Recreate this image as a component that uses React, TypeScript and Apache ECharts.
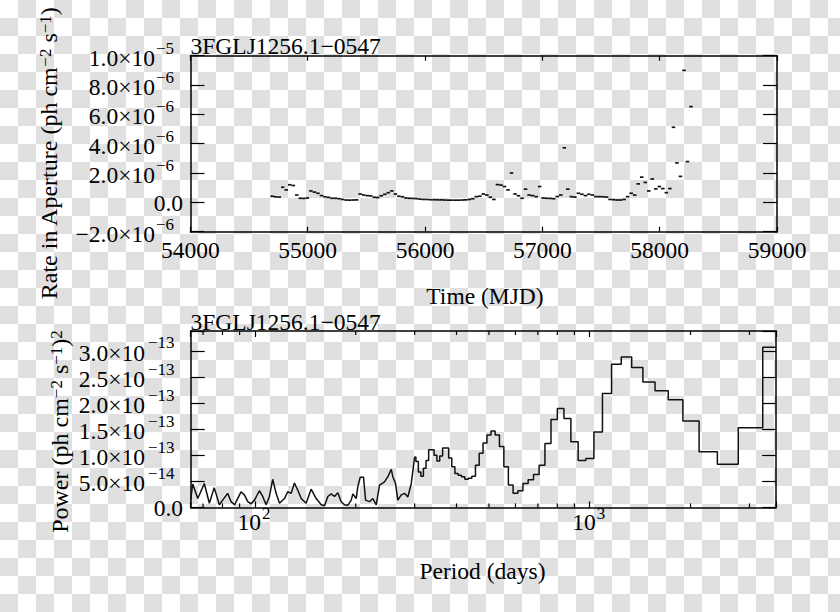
import React, { useEffect, useRef } from 'react';
import * as echarts from 'echarts';

const SOURCE = '3FGLJ1256.1−0547';
const FONT = 'Liberation Serif';

// ---- Light curve (top panel): 30-day bin centres (MJD) and rate in aperture (×1e-6 ph cm^-2 s^-1)
const binMjd = [
  54697, 54727, 54757, 54787, 54817, 54847, 54877, 54907, 54937, 54967,
  54997, 55027, 55057, 55087, 55117, 55147, 55177, 55207, 55237, 55267,
  55297, 55327, 55357, 55387, 55417, 55447, 55477, 55507, 55537, 55567,
  55597, 55627, 55657, 55687, 55717, 55747, 55777, 55807, 55837, 55867,
  55897, 55927, 55957, 55987, 56017, 56047, 56077, 56107, 56137, 56167,
  56197, 56227, 56257, 56287, 56317, 56347, 56377, 56407, 56437, 56467,
  56497, 56527, 56557, 56587, 56617, 56647, 56677, 56707, 56737, 56767,
  56797, 56827, 56857, 56887, 56917, 56947, 56977, 57007, 57037, 57067,
  57097, 57127, 57157, 57187, 57217, 57247, 57277, 57307, 57337, 57367,
  57397, 57427, 57457, 57487, 57517, 57547, 57577, 57607, 57637, 57667,
  57697, 57727, 57757, 57787, 57817, 57847, 57877, 57907, 57937, 57967,
  57997, 58027, 58057, 58087, 58117, 58147, 58177, 58207, 58237, 58267,
];
const rateE6 = [
  0.42, 0.38, 0.36, 1.03, 0.85, 1.2, 1.15, 0.5, 0.28, 0.27,
  0.3, 0.78, 0.7, 0.62, 0.46, 0.38, 0.34, 0.28, 0.28, 0.25,
  0.2, 0.16, 0.15, 0.16, 0.17, 0.57, 0.5, 0.46, 0.44, 0.35,
  0.33, 0.45, 0.55, 0.66, 0.78, 0.57, 0.42, 0.38, 0.3, 0.28,
  0.27, 0.25, 0.22, 0.2, 0.2, 0.18, 0.18, 0.17, 0.17, 0.16,
  0.15, 0.15, 0.15, 0.15, 0.16, 0.17, 0.2, 0.25, 0.39, 0.42,
  0.57, 0.5, 0.35, 0.2, 1.21, 1.18, 1.08, 0.85, 2.0, 0.57,
  0.45, 0.28, 0.9, 0.5, 0.46, 0.39, 1.08, 0.3, 0.28, 0.27,
  0.25, 0.4, 0.5, 3.72, 0.9, 0.39, 0.36, 0.62, 0.55, 0.46,
  0.55, 0.5, 0.39, 0.39, 0.38, 0.36, 0.2, 0.18, 0.16, 0.16,
  0.2, 0.39, 0.62, 0.5, 1.26, 1.72, 1.36, 0.78, 1.59, 0.92,
  1.08, 0.94, 0.66, 0.94, 5.12, 2.69, 1.77, 9.0, 2.78, 6.53,
];
const HALF_BIN_DAYS = 15;

// ---- Periodogram (bottom panel): period (days) and power (×1e-13 (ph cm^-2 s^-1)^2)
const periodShort = [
  64.3, 65.2, 67.5, 70.6, 73.1, 75.6, 78.3, 80.1, 82.9, 84.9,
  86.9, 90.9, 93.0, 95.2, 97.4, 99.7, 103.1, 105.5, 108.0, 110.5,
  113.0, 115.7, 118.4, 122.5, 125.3, 128.3, 131.2, 134.3, 137.5, 142.2,
  147.2, 152.4, 157.8, 161.4, 165.1, 169.0, 172.9, 176.8, 181.0, 185.2,
  189.4, 193.9, 196.1, 200.7, 202.9, 206.3, 211.1, 214.0, 219.9, 225.0,
  230.3, 235.6, 243.8, 249.5, 255.4, 258.2, 263.0, 267.2, 273.6, 279.8,
  286.2, 293.1, 300,
];
const powerShort = [
  0.15, 0.45, 0.17, 0.46, 0.08, 0.38, 0.05, 0.14, 0.27, 0.11,
  0.05, 0.3, 0.24, 0.11, 0.07, 0.14, 0.32, 0.21, 0.05, 0.21,
  0.54, 0.27, 0.08, 0.17, 0.3, 0.27, 0.47, 0.33, 0.17, 0.08,
  0.35, 0.17, 0.05, 0.03, 0.21, 0.26, 0.21, 0.28, 0.11, 0.05,
  0.04, 0.14, 0.26, 0.17, 0.4, 0.58, 0.58, 0.14, 0.11, 0.17,
  0.05, 0.43, 0.49, 0.59, 0.73, 0.59, 0.46, 0.14, 0.24, 0.27,
  0.2, 0.46, 0.97,
];
const periodLong = [
  300, 305.1, 310.3, 315.8, 321.4, 327.3, 333.3, 339.6, 346.2, 352.9,
  360, 367.3, 375, 383, 391.3, 400, 409.1, 418.6, 428.6, 439,
  450, 461.5, 473.7, 486.5, 500, 514.3, 529.4, 545.5, 562.5, 580.6,
  600, 620.7, 642.9, 666.7, 692.3, 720, 750, 782.6, 818.2, 857.1,
  900, 947.4, 1000, 1058.8, 1125, 1200, 1285.7, 1384.6, 1500, 1636.4,
  1800, 2000, 2250, 2571.4, 3000, 3600,
];
const powerLong = [
  0.97, 0.88, 0.68, 0.6, 0.75, 0.9, 1.11, 1.11, 1.0, 0.89,
  0.99, 1.14, 1.14, 0.95, 0.78, 0.65, 0.62, 0.59, 0.54, 0.56,
  0.6, 0.81, 1.04, 1.24, 1.39, 1.47, 1.39, 1.17, 0.78, 0.43,
  0.27, 0.32, 0.46, 0.53, 0.63, 0.81, 1.23, 1.69, 1.9, 1.71,
  1.26, 0.9, 0.94, 1.45, 2.19, 2.75, 2.89, 2.69, 2.41, 2.24,
  2.07, 1.66, 1.07, 0.83, 1.53, 3.08,
];

// ---- Tick values and labels
const timeTicks = [54000, 55000, 56000, 57000, 58000, 59000];
const timeTickLabels = ['54000', '55000', '56000', '57000', '58000', '59000'];
const rateTicks = [-2, 0, 2, 4, 6, 8, 10];
const rateTickLabels: [string, string][] = [
  ['−2.0', '−6'], ['0.0', ''], ['2.0', '−6'], ['4.0', '−6'], ['6.0', '−6'], ['8.0', '−6'], ['1.0', '−5'],
];
const powerTicks = [0, 0.5, 1, 1.5, 2, 2.5, 3];
const powerTickLabels: [string, string][] = [
  ['0.0', ''], ['5.0', '−14'], ['1.0', '−13'], ['1.5', '−13'], ['2.0', '−13'], ['2.5', '−13'], ['3.0', '−13'],
];
const periodMajorTicks = [100, 1000];
const periodMajorExp = ['2', '3'];
const periodMinorTicks = [70, 80, 90, 200, 300, 400, 500, 600, 700, 800, 900, 2000, 3000];

const BLACK = '#000';
const BASE_SIZE = 23.5;
const SUP_SIZE = 17;
const CHECK_GREY = '#e0e0e0';
const CHECK_CELL = 18;

const titleRich = {
  b: { fontFamily: FONT, fontSize: 24, lineHeight: 24, fill: BLACK, verticalAlign: 'bottom' },
  s: { fontFamily: FONT, fontSize: 17, lineHeight: 14, fill: BLACK, verticalAlign: 'top', padding: [0, 0, 17, 0] },
};

const axisLine = { show: true, onZero: false, lineStyle: { color: BLACK, width: 1.5 } };
const tickStyle = { color: BLACK, width: 1.2 };

function txt(x: number, y: number, text: string, size: number, align: string) {
  return {
    type: 'text', x, y, silent: true,
    style: { text, fontFamily: FONT, fontSize: size, fill: BLACK, align, verticalAlign: 'middle' },
  };
}

// y-axis tick label: mantissa "×10" right-aligned, exponent as superscript after it
function sciTickRenderer(labels: [string, string][], baseRight: number, supLeft: number, plainRight: number,
  baseDy: number, supDy: number, plainDy: number) {
  return (params: any, api: any) => {
    const p = api.coord([api.value(0), api.value(1)]);
    const [m, e] = labels[params.dataIndex];
    if (!e) return txt(p[0] - plainRight, p[1] + plainDy, m, BASE_SIZE, 'right');
    return {
      type: 'group',
      children: [
        txt(p[0] - baseRight, p[1] + baseDy, `${m}×10`, BASE_SIZE, 'right'),
        txt(p[0] - supLeft, p[1] + supDy, e, SUP_SIZE, 'left'),
      ],
    };
  };
}

function checkerboard(w: number, h: number) {
  const els: any[] = [];
  for (let r = 0; r * CHECK_CELL < h; r++) {
    for (let c = 0; c * CHECK_CELL < w; c++) {
      if ((r + c) % 2 === 1) {
        els.push({
          type: 'rect', silent: true,
          shape: { x: c * CHECK_CELL, y: r * CHECK_CELL, width: CHECK_CELL, height: CHECK_CELL },
          style: { fill: CHECK_GREY },
        });
      }
    }
  }
  return els;
}

function buildOption(): any {
  const lightData = binMjd.map((t, i) => [t, rateE6[i]]);
  const shortData = periodShort.map((p, i) => [p, powerShort[i]]);
  const longData = periodLong.map((p, i) => [p, powerLong[i]]);
  const minorData = periodMinorTicks.map((p) => [p, 0]);
  const POWER_MAX = 3.39;

  return {
    animation: false,
    backgroundColor: '#ffffff',
    grid: [
      { left: 190.4, top: 55.7, width: 586.6, height: 176, containLabel: false },
      { left: 190.7, top: 331, width: 585.3, height: 176.4, containLabel: false },
    ],
    xAxis: [
      {
        gridIndex: 0, type: 'value', min: 54000, max: 59000, interval: 1000, position: 'bottom',
        axisLine, axisTick: { inside: true, length: 5, lineStyle: tickStyle },
        axisLabel: {
          margin: 6.5, color: BLACK, fontFamily: FONT, fontSize: BASE_SIZE,
          showMinLabel: true, showMaxLabel: true,
          formatter: (v: number) => {
            const i = timeTicks.findIndex((t) => Math.abs(t - v) < 0.5);
            return i >= 0 ? timeTickLabels[i] : '';
          },
        },
        splitLine: { show: false },
      },
      {
        gridIndex: 0, type: 'value', min: 54000, max: 59000, interval: 1000, position: 'top',
        axisLine, axisTick: { inside: true, length: 5, lineStyle: tickStyle },
        axisLabel: { show: false }, splitLine: { show: false },
      },
      {
        gridIndex: 1, type: 'log', logBase: 10, min: 64.3, max: 3600, position: 'bottom',
        axisLine, axisTick: { inside: true, length: 6, lineStyle: tickStyle },
        axisLabel: { show: false }, splitLine: { show: false },
      },
      {
        gridIndex: 1, type: 'log', logBase: 10, min: 64.3, max: 3600, position: 'top',
        axisLine, axisTick: { inside: true, length: 6, lineStyle: tickStyle },
        axisLabel: { show: false }, splitLine: { show: false },
      },
    ],
    yAxis: [
      {
        gridIndex: 0, type: 'value', min: -2, max: 10, interval: 2, position: 'left',
        axisLine, axisTick: { inside: true, length: 14, lineStyle: tickStyle },
        axisLabel: { show: false }, splitLine: { show: false },
      },
      {
        gridIndex: 0, type: 'value', min: -2, max: 10, interval: 2, position: 'right',
        axisLine, axisTick: { inside: true, length: 14, lineStyle: tickStyle },
        axisLabel: { show: false }, splitLine: { show: false },
      },
      {
        gridIndex: 1, type: 'value', min: 0, max: POWER_MAX, interval: 0.5, position: 'left',
        axisLine, axisTick: { inside: true, length: 14, lineStyle: tickStyle },
        axisLabel: { show: false }, splitLine: { show: false },
      },
      {
        gridIndex: 1, type: 'value', min: 0, max: POWER_MAX, interval: 0.5, position: 'right',
        axisLine, axisTick: { inside: true, length: 14, lineStyle: tickStyle },
        axisLabel: { show: false }, splitLine: { show: false },
      },
    ],
    series: [
      {
        // checkerboard backdrop (as in the reference picture), drawn first
        type: 'custom', coordinateSystem: 'none', silent: true, z: -10, data: [0],
        renderItem: () => ({ type: 'group', children: checkerboard(840, 612) }),
      },
      {
        type: 'custom', xAxisIndex: 0, yAxisIndex: 0, data: lightData, silent: true, z: 5,
        renderItem: (_p: any, api: any) => {
          const t = api.value(0) as number;
          const v = api.value(1) as number;
          const a = api.coord([t - HALF_BIN_DAYS, v]);
          const b = api.coord([t + HALF_BIN_DAYS, v]);
          return {
            type: 'line',
            shape: { x1: a[0], y1: a[1], x2: b[0], y2: b[1] },
            style: { stroke: '#111', lineWidth: 1.7, lineCap: 'butt' },
          };
        },
      },
      {
        type: 'line', xAxisIndex: 2, yAxisIndex: 2, data: shortData, showSymbol: false, silent: true, z: 5,
        lineStyle: { color: '#111', width: 1.5 },
      },
      {
        type: 'line', xAxisIndex: 2, yAxisIndex: 2, data: longData, step: 'middle', showSymbol: false, silent: true, z: 5,
        lineStyle: { color: '#111', width: 1.5 },
      },
      {
        // minor ticks of the log period axis (bottom and top)
        type: 'custom', xAxisIndex: 2, yAxisIndex: 2, data: minorData, silent: true, clip: false, z: 5,
        renderItem: (_p: any, api: any) => {
          const v = api.value(0) as number;
          const b = api.coord([v, 0]);
          const t = api.coord([v, POWER_MAX]);
          return {
            type: 'group',
            children: [
              { type: 'line', shape: { x1: b[0], y1: b[1], x2: b[0], y2: b[1] - 4 }, style: { stroke: BLACK, lineWidth: 1.2 } },
              { type: 'line', shape: { x1: t[0], y1: t[1], x2: t[0], y2: t[1] + 4 }, style: { stroke: BLACK, lineWidth: 1.2 } },
            ],
          };
        },
      },
      {
        // y tick labels, top panel
        type: 'custom', xAxisIndex: 0, yAxisIndex: 0, silent: true, clip: false, z: 5,
        data: rateTicks.map((v) => [54000, v]),
        renderItem: sciTickRenderer(rateTickLabels, 35.4, 34.4, 7.4, 2, -7.5, 0.7),
      },
      {
        // y tick labels, bottom panel
        type: 'custom', xAxisIndex: 2, yAxisIndex: 2, silent: true, clip: false, z: 5,
        data: powerTicks.map((v) => [64.3, v]),
        renderItem: sciTickRenderer(powerTickLabels, 45.7, 42.7, 7.7, 2, -8.3, 0.6),
      },
      {
        // major labels of the log period axis: 10^2, 10^3
        type: 'custom', xAxisIndex: 2, yAxisIndex: 2, silent: true, clip: false, z: 5,
        data: periodMajorTicks.map((v) => [v, 0]),
        renderItem: (params: any, api: any) => {
          const p = api.coord([api.value(0), api.value(1)]);
          return {
            type: 'group',
            children: [
              txt(p[0] + 6, p[1] + 14.6, '10', BASE_SIZE, 'right'),
              txt(p[0] + 7, p[1] + 5.6, periodMajorExp[params.dataIndex], SUP_SIZE, 'left'),
            ],
          };
        },
      },
    ],
    graphic: {
      elements: [
        { ...txt(190.5, 45.5, SOURCE, BASE_SIZE, 'left'), z: 10 },
        { ...txt(190.5, 322, SOURCE, BASE_SIZE, 'left'), z: 10 },
        { ...txt(485, 296, 'Time (MJD)', BASE_SIZE, 'center'), z: 10 },
        { ...txt(482.5, 571, 'Period (days)', BASE_SIZE, 'center'), z: 10 },
        {
          type: 'text', x: 48.5, y: 153.5, rotation: Math.PI / 2, silent: true, z: 10,
          style: {
            text: '{b|Rate in Aperture (ph cm}{s|−2}{b| s}{s|−1}{b|)}',
            rich: titleRich, align: 'center', verticalAlign: 'middle', fill: BLACK,
          },
        },
        {
          type: 'text', x: 60, y: 431.5, rotation: Math.PI / 2, silent: true, z: 10,
          style: {
            text: '{b|Power (ph cm}{s|−2}{b| s}{s|−1}{b|)}{s|2}',
            rich: titleRich, align: 'center', verticalAlign: 'middle', fill: BLACK,
          },
        },
      ],
    },
  };
}

export default function App() {
  const ref = useRef<HTMLDivElement>(null);
  useEffect(() => {
    if (!ref.current) return;
    const chart = echarts.init(ref.current, null, { renderer: 'svg', width: 840, height: 612 });
    chart.setOption(buildOption());
    return () => chart.dispose();
  }, []);
  return <div ref={ref} style={{ position: 'fixed', left: 0, top: 0, width: 840, height: 612 }} />;
}
